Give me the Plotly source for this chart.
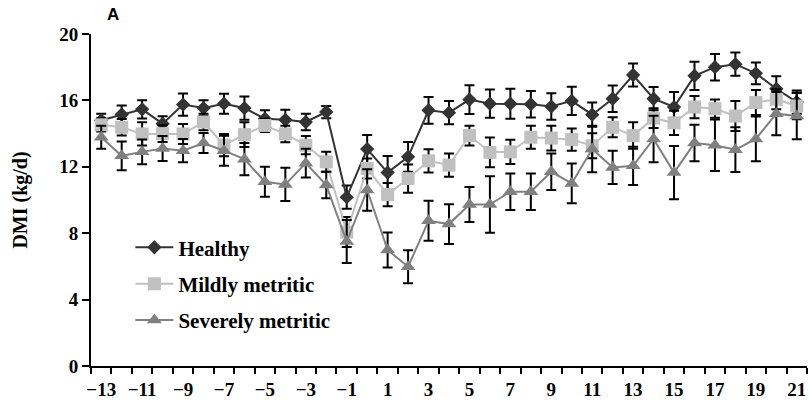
import plotly.graph_objects as go

days = [-13, -12, -11, -10, -9, -8, -7, -6, -5, -4, -3, -2, -1, 0, 1, 2, 3, 4, 5, 6,
        7, 8, 9, 10, 11, 12, 13, 14, 15, 16, 17, 18, 19, 20, 21]

healthy = [14.8, 15.15, 15.46, 14.6, 15.75, 15.54, 15.8, 15.54, 14.9, 14.83, 14.7, 15.3,
           10.17, 13.07, 11.65, 12.6, 15.4, 15.26, 16.05, 15.8, 15.8, 15.77, 15.63, 15.97,
           15.14, 16.1, 17.53, 16.1, 15.6, 17.48, 18.0, 18.18, 17.63, 16.7, 15.9]
healthy_err = [0.4, 0.55, 0.55, 0.45, 0.67, 0.47, 0.6, 0.7, 0.5, 0.6, 0.5, 0.37,
               0.7, 0.85, 1.0, 0.9, 0.8, 0.7, 0.87, 0.85, 0.9, 0.8, 0.8, 0.85,
               0.73, 0.8, 0.7, 0.7, 0.9, 0.85, 0.8, 0.7, 0.65, 0.75, 0.7]

mildly = [14.53, 14.38, 13.98, 14.0, 13.98, 14.7, 13.3, 13.94, 14.49, 13.98, 13.3, 12.3,
          8.07, 11.9, 10.33, 11.29, 12.36, 12.1, 13.88, 12.87, 12.9, 13.78, 13.73, 13.64,
          13.27, 14.38, 13.88, 14.93, 14.65, 15.6, 15.5, 15.06, 15.87, 16.07, 15.66]
mildly_err = [0.4, 0.5, 0.7, 0.5, 0.6, 0.5, 0.67, 0.75, 0.4, 0.5, 0.55, 0.6,
              0.9, 0.6, 0.7, 0.85, 0.7, 0.7, 0.6, 0.9, 0.73, 0.7, 0.75, 0.67,
              0.75, 0.6, 0.8, 0.6, 0.73, 0.67, 0.55, 0.9, 0.75, 0.6, 0.8]

severe = [13.78, 12.66, 12.9, 13.1, 12.97, 13.43, 12.97, 12.46, 11.1, 10.94, 12.22, 10.9,
          7.5, 10.6, 6.99, 5.98, 8.75, 8.55, 9.73, 9.73, 10.5, 10.5, 11.7, 11.0,
          13.07, 11.96, 12.06, 13.68, 11.65, 13.43, 13.3, 13.03, 13.68, 15.2, 15.06]
severe_err = [0.7, 0.87, 0.75, 0.75, 0.7, 0.6, 0.9, 0.97, 0.9, 1.0, 0.87, 0.8,
              1.3, 1.25, 1.05, 1.0, 1.2, 1.2, 1.05, 1.7, 1.1, 1.1, 1.1, 1.2,
              1.4, 1.0, 1.15, 1.4, 1.6, 1.1, 1.55, 1.35, 1.35, 1.3, 1.4]

x_tick_vals = [-13, -11, -9, -7, -5, -3, -1, 1, 3, 5, 7, 9, 11, 13, 15, 17, 19, 21]
x_tick_text = ["\u221213", "\u221211", "\u22129", "\u22127", "\u22125", "\u22123", "\u22121",
               "1", "3", "5", "7", "9", "11", "13", "15", "17", "19", "21"]
y_tick_vals = [0, 4, 8, 12, 16, 20]

series = [
    ("Healthy", healthy, healthy_err, "#333333", "diamond", 11),
    ("Mildly metritic", mildly, mildly_err, "#c0c0c0", "square", 13),
    ("Severely metritic", severe, severe_err, "#808080", "triangle-up", 13),
]

fig = go.Figure()
for i, (name, vals, err, color, sym, size) in enumerate(series):
    fig.add_trace(go.Scatter(
        x=days, y=vals, name=name, mode="lines+markers",
        legendgroup="g%d" % i,
        line=dict(color=color, width=2),
        marker=dict(symbol=sym, size=size, color=color),
        error_y=dict(type="data", array=err, visible=True, color="black",
                     thickness=2, width=5),
    ))

serif = "Liberation Serif, Times New Roman, serif"
fig.update_layout(
    width=809, height=402,
    margin=dict(l=91, r=2, t=34, b=36),
    paper_bgcolor="white", plot_bgcolor="white",
    font=dict(family=serif, color="black"),
    showlegend=True,
    legend=dict(
        x=0.055, y=0.418, xanchor="left", yanchor="top",
        bgcolor="rgba(0,0,0,0)",
        font=dict(family=serif, size=21, color="black", weight="bold"),
        tracegroupgap=6, itemwidth=38,
    ),
    xaxis=dict(
        range=[-13.5, 21.5], showgrid=False, zeroline=False,
        showline=True, linecolor="black", linewidth=2,
        tickmode="array", tickvals=x_tick_vals, ticktext=x_tick_text,
        ticks="outside", ticklen=5, tickcolor="rgba(0,0,0,0)",
        tickfont=dict(family=serif, size=19, color="black", weight="bold"),
        minor=dict(tickmode="linear", tick0=-13.5, dtick=1, ticks="outside",
                   ticklen=6, tickwidth=2, tickcolor="black", showgrid=False),
    ),
    yaxis=dict(
        range=[0, 20], showgrid=False, zeroline=False,
        showline=True, linecolor="black", linewidth=2,
        tickmode="array", tickvals=y_tick_vals,
        ticks="outside", ticklen=7, tickwidth=2, tickcolor="black",
        tickfont=dict(family=serif, size=19, color="black", weight="bold"),
        title=dict(text="DMI (kg/d)", standoff=26,
                   font=dict(family=serif, size=20, color="black", weight="bold")),
    ),
    annotations=[dict(
        text="A", xref="paper", yref="paper", x=-0.0, y=1.0,
        xanchor="center", yanchor="bottom", xshift=22, yshift=8, showarrow=False,
        font=dict(family="Liberation Sans, Arial, sans-serif", size=17, color="black", weight="bold"),
    )],
)

fig.write_html("out.html")
